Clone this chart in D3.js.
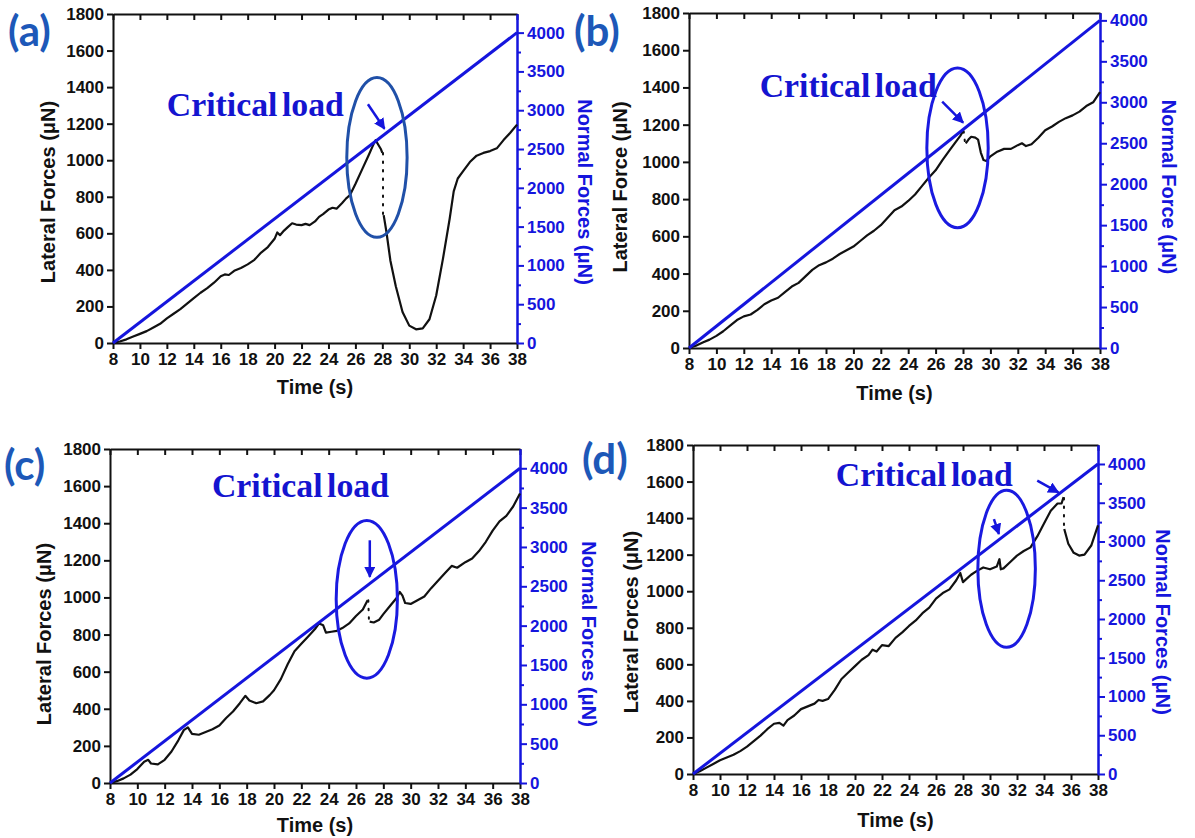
<!DOCTYPE html>
<html lang="en">
<head>
<meta charset="UTF-8">
<title>Lateral and normal force vs time</title>
<script src="https://d3js.org/d3.v7.min.js"></script>
<style>
  body { margin: 0; background: #fff; }
  .tick text { font-family: "Liberation Sans", Arial, sans-serif; font-weight: bold; font-size: 17px; }
  .title { font-family: "Liberation Sans", Arial, sans-serif; font-weight: bold; font-size: 20px; }
  .panel-label { font-family: Lato, "Open Sans", sans-serif; font-weight: bold; font-size: 42px; fill: #1d58b8; }
  .critical { font-family: "Liberation Serif", "Times New Roman", serif; font-weight: bold; font-size: 34px; fill: #1414d0; word-spacing: -4px; }
</style>
</head>
<body>
<script>
// ---- data ----
const panelLabels = ["(a)", "(b)", "(c)", "(d)"];
const lateralTitles = ["Lateral Forces (μN)", "Lateral Force (μN)", "Lateral Forces (μN)", "Lateral Forces (μN)"];
const normalTitles = ["Normal Forces (μN)", "Normal Force (μN)", "Normal Forces (μN)", "Normal Forces (μN)"];
const timeTicks = [8, 10, 12, 14, 16, 18, 20, 22, 24, 26, 28, 30, 32, 34, 36, 38];
const lateralTicks = [0, 200, 400, 600, 800, 1000, 1200, 1400, 1600, 1800];
const normalTicks = [0, 500, 1000, 1500, 2000, 2500, 3000, 3500, 4000];
const normalMinor = [250, 750, 1250, 1750, 2250, 2750, 3250, 3750];

// normal load ramp (same in all panels)
const normalTime = [8, 38];
const normalForce = [0, 4000];

// lateral force, null = gap where the signal drops
const timeA = [8, 8.5, 9, 9.5, 10, 10.5, 11, 11.5, 12, 12.5, 13, 13.5, 14, 14.5, 15, 15.5, 16, 16.3, 16.6, 17, 17.5, 18, 18.5, 19, 19.5, 20, 20.2, 20.4, 20.7, 21, 21.3, 21.6, 22, 22.3, 22.6, 23, 23.3, 23.6, 24, 24.3, 24.6, 25, 25.3, 25.6, 26, 26.5, 27, 27.3, 27.5, 27.7, 27.9, 28.0,
  null, 28.1, 28.3, 28.6, 29, 29.5, 30, 30.5, 31, 31.5, 32, 32.5, 33, 33.3, 33.6, 34, 34.5, 35, 35.5, 36, 36.5, 37, 37.5, 38];
const forceA = [0, 8, 20, 35, 50, 65, 85, 105, 135, 160, 185, 215, 245, 275, 300, 330, 365, 375, 372, 395, 410, 430, 455, 495, 525, 570, 605, 590, 615, 635, 655, 648, 645, 652, 645, 665, 690, 705, 730, 740, 735, 765, 790, 810, 870, 950, 1030, 1080, 1110, 1085, 1060, 1040,
  null, 700, 610, 450, 310, 170, 95, 75, 80, 130, 260, 460, 680, 830, 900, 940, 990, 1025, 1040, 1050, 1065, 1110, 1150, 1195];

const timeB = [8, 8.5, 9, 9.5, 10, 10.5, 11, 11.5, 12, 12.5, 13, 13.5, 14, 14.5, 15, 15.5, 16, 16.5, 17, 17.5, 18, 18.5, 19, 19.5, 20, 20.5, 21, 21.5, 22, 22.5, 23, 23.5, 24, 24.5, 25, 25.5, 26, 26.5, 27, 27.5, 27.8, 28.0,
  null, 28.2, 28.4, 28.6, 28.9, 29.1, 29.3, 29.5, 29.7, 30, 30.5, 31, 31.5, 32, 32.3, 32.6, 33, 33.5, 34, 34.5, 35, 35.5, 36, 36.5, 37, 37.5, 38];
const forceB = [0, 12, 30, 45, 65, 90, 120, 150, 170, 180, 205, 235, 255, 270, 300, 330, 350, 385, 420, 445, 460, 480, 505, 525, 545, 575, 605, 630, 660, 700, 740, 760, 790, 825, 870, 915, 955, 1010, 1060, 1110, 1140, 1165,
  null, 1100, 1120, 1135, 1130, 1120, 1050, 1010, 1005, 1030, 1055, 1070, 1070, 1090, 1100, 1085, 1095, 1130, 1170, 1190, 1215, 1235, 1250, 1270, 1300, 1320, 1375];

const timeC = [8, 8.5, 9, 9.5, 10, 10.5, 10.8, 11, 11.5, 12, 12.5, 13, 13.4, 13.7, 14, 14.5, 15, 15.5, 16, 16.5, 17, 17.5, 17.9, 18.2, 18.7, 19.2, 19.7, 20, 20.5, 21, 21.5, 22, 22.5, 23, 23.3, 23.6, 23.8, 24.2, 24.6, 25, 25.5, 26, 26.5, 26.85,
  null, 27.0, 27.3, 27.7, 28, 28.5, 29, 29.2, 29.4, 29.6, 30, 30.5, 31, 31.5, 32, 32.5, 33, 33.4, 34, 34.5, 35, 35.5, 36, 36.5, 37, 37.5, 38];
const forceC = [0, 10, 25, 45, 75, 115, 125, 105, 100, 125, 170, 230, 285, 300, 265, 260, 275, 290, 310, 350, 385, 430, 470, 445, 430, 440, 475, 500, 560, 640, 710, 750, 790, 830, 860, 850, 810, 815, 820, 835, 860, 900, 935, 985,
  null, 870, 865, 880, 910, 955, 1000, 1030, 1010, 970, 965, 985, 1005, 1050, 1090, 1130, 1170, 1160, 1190, 1210, 1250, 1300, 1360, 1410, 1440, 1490, 1560];

const timeD = [8, 8.5, 9, 9.5, 10, 10.5, 11, 11.5, 12, 12.5, 13, 13.5, 14, 14.4, 14.7, 15, 15.5, 16, 16.5, 17, 17.3, 17.6, 18, 18.5, 19, 19.5, 20, 20.5, 21, 21.3, 21.6, 22, 22.5, 23, 23.5, 24, 24.5, 25, 25.5, 26, 26.5, 27, 27.5, 27.8, 28, 28.3, 28.6, 29, 29.5, 30, 30.5, 30.7, 30.8, 31, 31.5, 32, 32.5, 33, 33.5, 34, 34.5, 35, 35.3, 35.45,
  null, 35.5, 35.8, 36.2, 36.6, 37, 37.5, 38];
const forceD = [0, 15, 35, 55, 75, 90, 105, 125, 150, 180, 210, 245, 275, 280, 265, 295, 320, 355, 370, 385, 405, 400, 410, 460, 520, 555, 590, 625, 650, 680, 670, 705, 700, 745, 775, 810, 840, 880, 910, 960, 990, 1010, 1060, 1100, 1050, 1070, 1090, 1110, 1130, 1120, 1135, 1175, 1120, 1125, 1160, 1195, 1220, 1240, 1300, 1370, 1440, 1480, 1480, 1515,
  null, 1340, 1260, 1210, 1195, 1200, 1250, 1360];

// dotted drop of the lateral signal
const dropTimeA = [28.05, 28.05], dropForceA = [1040, 700];
const dropTimeB = [28.05, 28.15], dropForceB = [1165, 1100];
const dropTimeC = [26.9, 26.95], dropForceC = [985, 870];
const dropTimeD = [35.48, 35.48], dropForceD = [1510, 1340];

// ---- layout (pixels / annotation anchors in data units) ----
const layouts = [
  { left: 113, right: 517, top: 14, bottom: 343, rMax: 4240, label: [8, 46], leftTitleX: 48, rightTitleX: 585, titleY: 192, timeY: 394,
    text: [12.0, 1241], ellipse: [27.6, 1015, 2.24, 437], ellipseColor: "#2050a8", arrows: [[26.93, 1306, 28.16, 1172]] },
  { left: 689, right: 1100, top: 13, bottom: 348, rMax: 4090, label: [574, 46], leftTitleX: 620, rightTitleX: 1169, titleY: 187, timeY: 400,
    text: [13.16, 1351], ellipse: [27.6, 1075, 2.24, 429], ellipseColor: "#1a1ae0", arrows: [[26.48, 1324, 28.01, 1211]] },
  { left: 110, right: 520, top: 449, bottom: 783, rMax: 4245, label: [4, 480], leftTitleX: 44, rightTitleX: 589, titleY: 634, timeY: 832,
    text: [15.46, 1544], ellipse: [26.79, 990, 2.24, 425], ellipseColor: "#1a1ae0", arrows: [[27.01, 1308, 27.01, 1111]] },
  { left: 693, right: 1098, top: 445, bottom: 774, rMax: 4245, label: [582, 474], leftTitleX: 631, rightTitleX: 1163, titleY: 622, timeY: 827,
    text: [18.58, 1578], ellipse: [31.23, 1123, 2.13, 430], ellipseColor: "#1a1ae0", arrows: [[30.29, 1395, 30.66, 1313], [33.5, 1605, 35.07, 1541]] }
];

const series = [
  { t: timeA, f: forceA, dt: dropTimeA, df: dropForceA },
  { t: timeB, f: forceB, dt: dropTimeB, df: dropForceB },
  { t: timeC, f: forceC, dt: dropTimeC, df: dropForceC },
  { t: timeD, f: forceD, dt: dropTimeD, df: dropForceD }
];

const BLUE = "#1515dd";
const fmt = d3.format("d");

const svg = d3.select("body").append("svg")
  .attr("width", 1195)
  .attr("height", 838);

// arrow head
svg.append("defs").append("marker")
  .attr("id", "head")
  .attr("viewBox", "0 0 10 10")
  .attr("refX", 9).attr("refY", 5)
  .attr("markerWidth", 4.5).attr("markerHeight", 4.5)
  .attr("orient", "auto")
  .append("path")
  .attr("d", "M0,0 L10,5 L0,10 z")
  .attr("fill", BLUE);

layouts.forEach((L, i) => {
  const g = svg.append("g");
  const s = series[i];

  const x = d3.scaleLinear().domain([8, 38]).range([L.left, L.right]);
  const y = d3.scaleLinear().domain([0, 1800]).range([L.bottom, L.top]);
  const yR = d3.scaleLinear().domain([0, L.rMax]).range([L.bottom, L.top]);

  // axes
  const bottomAx = g.append("g").attr("transform", `translate(0,${L.bottom})`)
    .call(d3.axisBottom(x).tickValues(timeTicks).tickFormat(fmt).tickSize(6).tickSizeOuter(0).tickPadding(4));
  const topAx = g.append("g").attr("transform", `translate(0,${L.top})`)
    .call(d3.axisTop(x).tickValues(timeTicks).tickSize(-6).tickSizeOuter(0).tickFormat(""));
  const leftAx = g.append("g").attr("transform", `translate(${L.left},0)`)
    .call(d3.axisLeft(y).tickValues(lateralTicks).tickFormat(fmt).tickSize(6).tickSizeOuter(0).tickPadding(3));
  const rightMinor = g.append("g").attr("transform", `translate(${L.right},0)`)
    .call(d3.axisRight(yR).tickValues(normalMinor).tickSize(4).tickSizeOuter(0).tickFormat(""));
  const rightAx = g.append("g").attr("transform", `translate(${L.right},0)`)
    .call(d3.axisRight(yR).tickValues(normalTicks).tickFormat(fmt).tickSize(7).tickSizeOuter(0).tickPadding(3));

  [bottomAx, topAx, leftAx].forEach(a => {
    a.selectAll("path, line").attr("stroke", "#111").attr("stroke-width", 2);
    a.selectAll("text").attr("fill", "#111");
  });
  [rightAx, rightMinor].forEach(a => {
    a.selectAll("path, line").attr("stroke", BLUE).attr("stroke-width", 2);
    a.selectAll("text").attr("fill", BLUE);
  });

  // lateral force (black)
  const pts = s.t.map((t, k) => [t, s.f[k]]);
  g.append("path")
    .attr("d", d3.line().defined(d => d[0] !== null).x(d => x(d[0])).y(d => y(d[1]))(pts))
    .attr("fill", "none").attr("stroke", "#111").attr("stroke-width", 2.2)
    .attr("stroke-linejoin", "round");

  // dotted drop
  g.append("path")
    .attr("d", d3.line().x(d => x(d[0])).y(d => y(d[1]))(s.dt.map((t, k) => [t, s.df[k]])))
    .attr("fill", "none").attr("stroke", "#111").attr("stroke-width", 2)
    .attr("stroke-dasharray", "1.5,7").attr("stroke-linecap", "round");

  // normal force ramp (blue, right axis)
  g.append("path")
    .attr("d", d3.line().x(d => x(d[0])).y(d => yR(d[1]))(normalTime.map((t, k) => [t, normalForce[k]])))
    .attr("fill", "none").attr("stroke", BLUE).attr("stroke-width", 3);

  // annotations
  const e = L.ellipse;
  g.append("ellipse")
    .attr("cx", x(e[0])).attr("cy", y(e[1]))
    .attr("rx", x(e[0] + e[2]) - x(e[0])).attr("ry", y(0) - y(e[3]))
    .attr("fill", "none").attr("stroke", L.ellipseColor).attr("stroke-width", 3);

  L.arrows.forEach(a => {
    g.append("line")
      .attr("x1", x(a[0])).attr("y1", y(a[1]))
      .attr("x2", x(a[2])).attr("y2", y(a[3]))
      .attr("stroke", BLUE).attr("stroke-width", 2.5)
      .attr("marker-end", "url(#head)");
  });

  g.append("text").attr("class", "critical")
    .attr("x", x(L.text[0])).attr("y", y(L.text[1]))
    .attr("textLength", 177).attr("lengthAdjust", "spacingAndGlyphs")
    .text("Critical load");

  // titles
  g.append("text").attr("class", "title")
    .attr("x", (L.left + L.right) / 2).attr("y", L.timeY)
    .attr("text-anchor", "middle").attr("fill", "#111")
    .text("Time (s)");
  g.append("text").attr("class", "title")
    .attr("transform", `translate(${L.leftTitleX},${L.titleY}) rotate(-90)`)
    .attr("text-anchor", "middle").attr("dominant-baseline", "central").attr("fill", "#111")
    .text(lateralTitles[i]);
  g.append("text").attr("class", "title")
    .attr("transform", `translate(${L.rightTitleX},${L.titleY}) rotate(90)`)
    .attr("text-anchor", "middle").attr("dominant-baseline", "central").attr("fill", BLUE)
    .text(normalTitles[i]);

  g.append("text").attr("class", "panel-label")
    .attr("x", L.label[0]).attr("y", L.label[1])
    .text(panelLabels[i]);
});
</script>
</body>
</html>
